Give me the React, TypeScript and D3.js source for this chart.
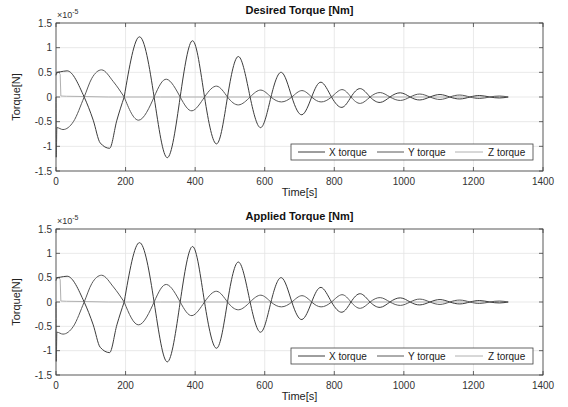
import React from "react";
import * as d3 from "d3";

// Time [s] / torque [1e-5 N] pairs
const xTorque: [number, number][] = [
  [0, 0.44], [3, 0.5], [12, 0.51],
  [32, 0.53], [81, 0], [107, -0.47], [127, -0.93], [154, -1.04], [175, -0.47], [196, 0],
  [240, 1.22], [282, 0], [320, -1.23], [357, 0], [393, 1.14], [427, 0], [462, -0.95],
  [493, 0], [525, 0.82], [558, 0], [589, -0.62], [618, 0], [648, 0.5], [678, 0],
  [707, -0.36], [735, 0], [762, 0.3], [792, 0], [822, -0.21], [848, 0], [875, 0.17],
  [903, 0], [932, -0.11], [960, 0], [990, 0.085], [1018, 0], [1046, -0.06], [1075, 0],
  [1104, 0.05], [1132, 0], [1161, -0.04], [1190, 0], [1218, 0.03], [1247, 0],
  [1275, -0.02], [1300, 0],
];
const yTorque: [number, number][] = [
  [0, 0], [0.8, -1.22], [2.5, -0.62],
  [20, -0.66], [50, -0.5], [81, 0], [103, 0.38], [131, 0.55], [165, 0.31], [196, 0],
  [238, -0.47], [282, 0], [318, 0.36], [357, 0], [391, -0.28], [427, 0], [462, 0.22],
  [493, 0], [525, -0.16], [558, 0], [589, 0.14], [618, 0], [648, -0.1], [678, 0],
  [707, 0.13], [735, 0], [762, -0.1], [792, 0], [822, 0.15], [848, 0], [875, -0.13],
  [903, 0], [932, 0.09], [960, 0], [990, -0.07], [1018, 0], [1046, 0.06], [1075, 0],
  [1104, -0.05], [1132, 0], [1161, 0.04], [1190, 0], [1218, -0.03], [1247, 0],
  [1275, 0.02], [1300, 0],
];
const zTorque: [number, number][] = [
  [0, 0.47], [8, 0.5], [12, 0.46], [14, 0.02], [30, 0.015], [80, 0.01], [150, 0],
  [300, 0], [600, 0], [1300, 0],
];

const xTicks = [0, 200, 400, 600, 800, 1000, 1200, 1400];
const yTicks = [-1.5, -1, -0.5, 0, 0.5, 1, 1.5];
const seriesNames = ["X torque", "Y torque", "Z torque"];
const seriesColors = ["#3c3c3c", "#585858", "#b0b0b0"];
const panelTitles = ["Desired Torque [Nm]", "Applied Torque [Nm]"];

const FONT = "'Liberation Sans', Arial, Helvetica, sans-serif";
const W = 568;
const H = 407;
const LEFT = 56;
const RIGHT = 543;
const SPLIT_T = 196; // early transient part drawn with a monotone curve

type Pt = [number, number];

function Panel({ top, bottom, title }: { top: number; bottom: number; title: string }) {
  const x = d3.scaleLinear().domain([0, 1400]).range([LEFT, RIGHT]);
  const y = d3.scaleLinear().domain([-1.5, 1.5]).range([bottom, top]);
  const lin = d3.line<Pt>().x((d) => x(d[0])).y((d) => y(d[1]));
  const mono = d3.line<Pt>().x((d) => x(d[0])).y((d) => y(d[1])).curve(d3.curveMonotoneX);
  const nat = d3.line<Pt>().x((d) => x(d[0])).y((d) => y(d[1])).curve(d3.curveNatural);
  const cx = (LEFT + RIGHT) / 2;
  const legTop = bottom - 27;
  const legH = 16;
  const legItems = [
    { l0: 298, l1: 325, t: 329 },
    { l0: 377, l1: 404, t: 408 },
    { l0: 455, l1: 483, t: 488 },
  ];
  const osc = [xTorque, yTorque];
  return (
    <g>
      {xTicks.map((t) => (
        <line key={"gx" + t} x1={x(t)} x2={x(t)} y1={top} y2={bottom} stroke="#e3e3e3" strokeWidth={0.8} />
      ))}
      {yTicks.map((t) => (
        <line key={"gy" + t} x1={LEFT} x2={RIGHT} y1={y(t)} y2={y(t)} stroke="#e3e3e3" strokeWidth={0.8} />
      ))}
      <path d={lin(zTorque) || ""} fill="none" stroke={seriesColors[2]} strokeWidth={1} />
      {osc.map((s, i) => {
        const k = s.findIndex((d) => d[0] >= SPLIT_T);
        const head = s.slice(0, k + 1);
        const rest = s.slice(k);
        return (
          <g key={"s" + i}>
            <path d={mono(head) || ""} fill="none" stroke={seriesColors[i]} strokeWidth={1} />
            <path d={nat(rest) || ""} fill="none" stroke={seriesColors[i]} strokeWidth={1} />
          </g>
        );
      })}
      <rect x={LEFT} y={top} width={RIGHT - LEFT} height={bottom - top} fill="none" stroke="#404040" strokeWidth={0.8} />
      {xTicks.map((t) => (
        <g key={"tx" + t}>
          <line x1={x(t)} x2={x(t)} y1={bottom} y2={bottom - 4} stroke="#404040" strokeWidth={0.8} />
          <line x1={x(t)} x2={x(t)} y1={top} y2={top + 4} stroke="#404040" strokeWidth={0.8} />
          <text x={x(t)} y={bottom + 14} textAnchor="middle" fontSize={10} fill="#333" fontFamily={FONT}>
            {t}
          </text>
        </g>
      ))}
      {yTicks.map((t) => (
        <g key={"ty" + t}>
          <line x1={LEFT} x2={LEFT + 4} y1={y(t)} y2={y(t)} stroke="#404040" strokeWidth={0.8} />
          <line x1={RIGHT} x2={RIGHT - 4} y1={y(t)} y2={y(t)} stroke="#404040" strokeWidth={0.8} />
          <text x={LEFT - 4} y={y(t) + 3.5} textAnchor="end" fontSize={10} fill="#333" fontFamily={FONT}>
            {String(t)}
          </text>
        </g>
      ))}
      <text x={LEFT + 1} y={top - 5} fontSize={9} fill="#333" fontFamily={FONT}>
        ×10
        <tspan dy={-4} fontSize={7}>-5</tspan>
      </text>
      <text x={cx} y={top - 9} textAnchor="middle" fontSize={11} fontWeight="bold" fill="#111" fontFamily={FONT}>
        {title}
      </text>
      <text x={cx} y={bottom + 25} textAnchor="middle" fontSize={11} fill="#222" fontFamily={FONT}>
        Time[s]
      </text>
      <text
        transform={`translate(${20},${(top + bottom) / 2}) rotate(-90)`}
        textAnchor="middle"
        fontSize={11}
        fill="#222"
        fontFamily={FONT}
      >
        Torque[N]
      </text>
      <rect x={291} y={legTop} width={242} height={legH} fill="#fff" stroke="#404040" strokeWidth={0.8} />
      {seriesNames.map((n, i) => (
        <g key={"lg" + i}>
          <line x1={legItems[i].l0} x2={legItems[i].l1} y1={legTop + legH / 2} y2={legTop + legH / 2} stroke={seriesColors[i]} strokeWidth={1} />
          <text x={legItems[i].t} y={legTop + legH / 2 + 3.5} fontSize={10} fill="#222" fontFamily={FONT}>
            {n}
          </text>
        </g>
      ))}
    </g>
  );
}

export default function App() {
  return (
    <svg width={W} height={H} style={{ position: "absolute", left: 0, top: 0, background: "#fff" }}>
      <rect width={W} height={H} fill="#fff" />
      <Panel top={23} bottom={171} title={panelTitles[0]} />
      <Panel top={229} bottom={375} title={panelTitles[1]} />
    </svg>
  );
}
